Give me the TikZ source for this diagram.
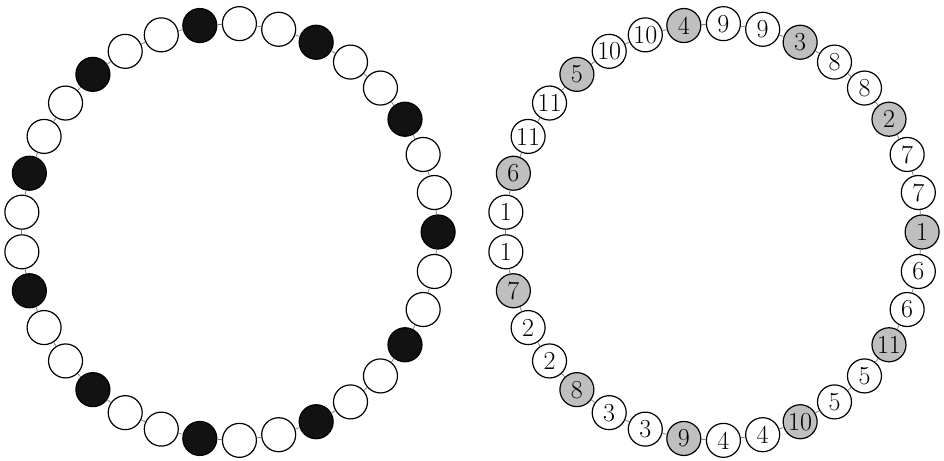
\documentclass[tikz,border=0pt]{standalone}
\begin{document}
\begin{tikzpicture}[x=1pt,y=1pt,
  ring/.style={circle,draw=black,line width=1.2pt,minimum size=34pt,inner sep=0pt,font=\fontsize{26}{26}\selectfont},
  bnode/.style={ring,fill=black!93},
  gnode/.style={ring,fill=black!25},
  wnode/.style={ring,fill=white},
  link/.style={draw=black!50,line width=0.8pt}]
\useasboundingbox (0,0) rectangle (944,460);
\foreach \k in {0,...,32}{
  \pgfmathtruncatemacro{\m}{mod(\k,3)}
  \pgfmathtruncatemacro{\j}{int(\k/3)}
  \ifnum\m=0
    \tikzset{curL/.style={bnode},curR/.style={gnode}}
    \pgfmathtruncatemacro{\lab}{\j+1}
  \else
    \tikzset{curL/.style={wnode},curR/.style={wnode}}
    \pgfmathtruncatemacro{\lab}{mod(\j+6,11)+1}
  \fi
  \node[curL] (L\k) at ({229.5+208.6*cos(\k*360/33)},{228+208.6*sin(\k*360/33)}) {};
  \node[curR] (R\k) at ({713.5+208.6*cos(\k*360/33)},{228+208.6*sin(\k*360/33)}) {\lab};
}
\foreach \k in {0,...,32}{
  \pgfmathtruncatemacro{\n}{mod(\k+1,33)}
  \draw[link] (L\k) -- (L\n);
  \draw[link] (R\k) -- (R\n);
}
\end{tikzpicture}
\end{document}
